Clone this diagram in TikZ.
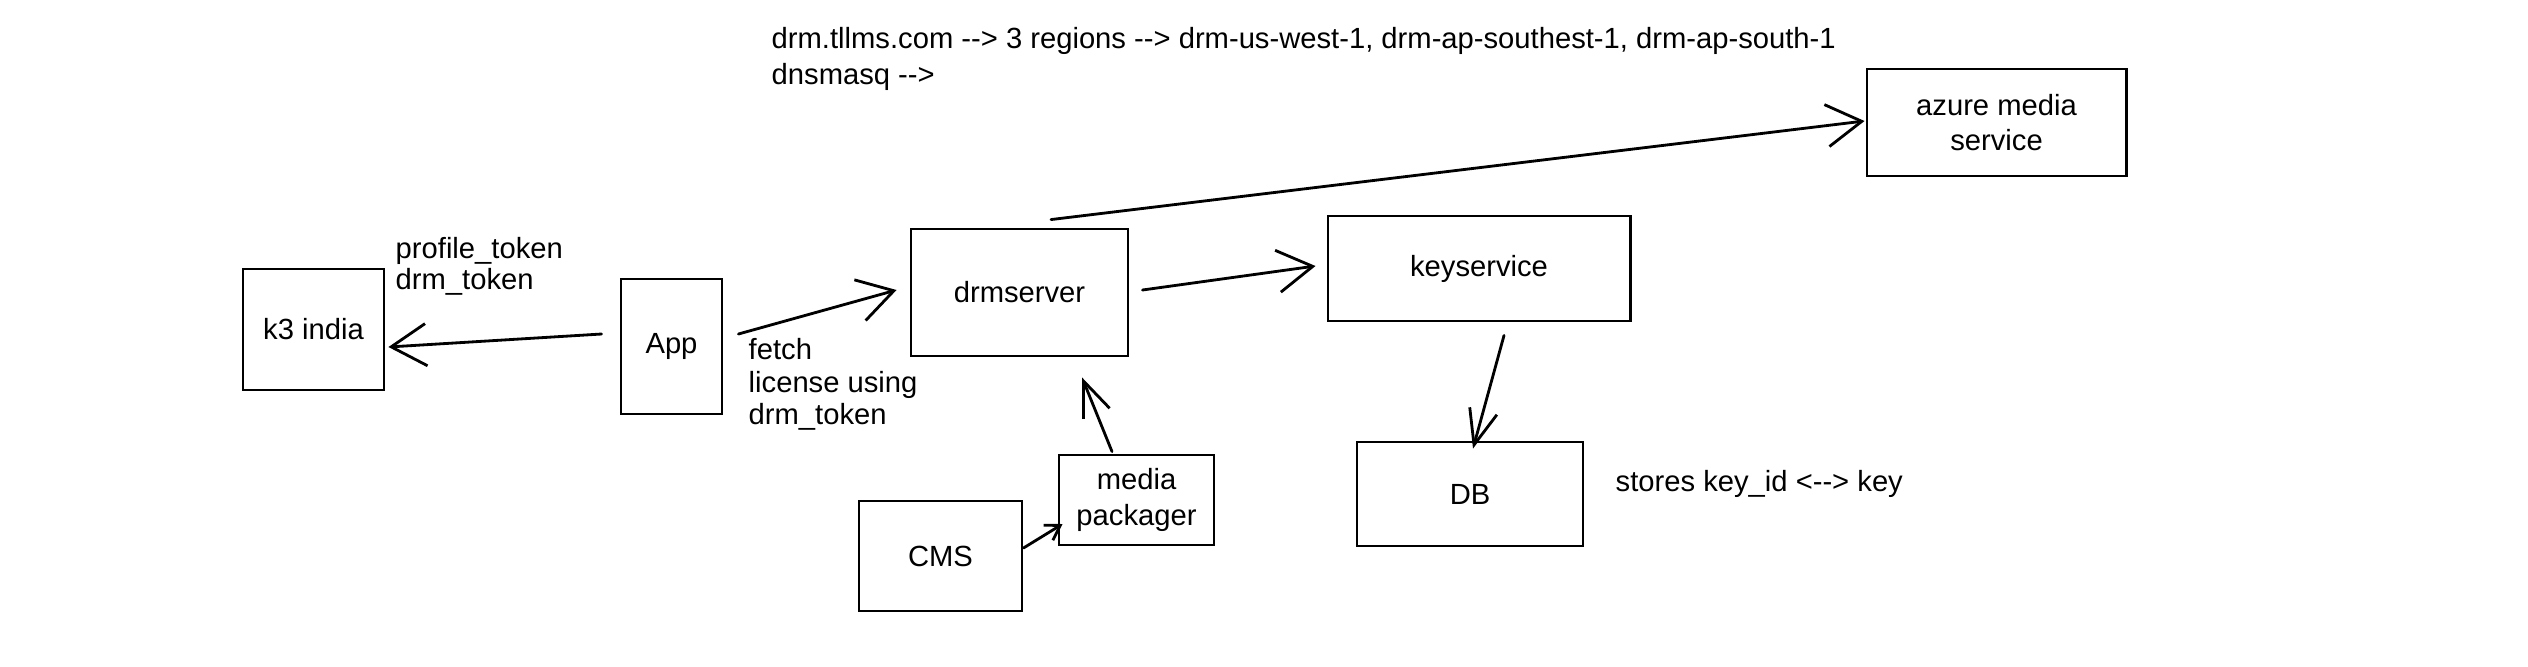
\documentclass[tikz,border=0pt]{standalone}
\usepackage{fontspec}
\setmainfont{Liberation Sans}
\usetikzlibrary{arrows.meta,calc}
\tikzset{
  box/.style={draw, line width=0.8pt, rectangle, inner sep=0pt, align=center, font=\fontsize{8.3pt}{10pt}\selectfont},
  lbl/.style={inner sep=0pt, align=left, font=\fontsize{8.3pt}{10pt}\selectfont},
  conn/.style={line width=0.8pt, line cap=round},
  bigarr/.style={conn, -{Straight Barb[length=10pt,width=12pt]}},
  narrowarr/.style={conn, -{Straight Barb[length=10pt,width=8pt]}},
  smallarr/.style={conn, -{Straight Barb[length=4pt,width=5pt]}},
}
\begin{document}
\begin{tikzpicture}[x=0.01cm,y=-0.01cm]
\useasboundingbox (0,0) rectangle (2528,666);
\fill[white] (0,0) rectangle (2528,666);
% boxes
\node[box, minimum width=1.41cm, minimum height=1.21cm] (k3) at (313.5,329.5) {k3 india};
\node[box, minimum width=1.01cm, minimum height=1.35cm] (app) at (671.5,346.5) {App};
\node[box, minimum width=2.17cm, minimum height=1.27cm] (drm) at (1019.5,292.5) {drmserver};
\node[box, minimum width=3.02cm, minimum height=1.05cm] (key) at (1479,268.5) {keyservice};
\node[box, minimum width=2.59cm, minimum height=1.07cm] (azure) at (1996.5,122.5) {azure media\\service};
\node[box, minimum width=2.26cm, minimum height=1.04cm] (db) at (1470,494) {DB};
\node[box, minimum width=1.55cm, minimum height=0.90cm] (mp) at (1136.5,500) {media\\packager};
\node[box, minimum width=1.63cm, minimum height=1.10cm] (cms) at (940.5,556) {CMS};
% labels
\node[lbl, anchor=north west, font=\fontsize{8.3pt}{10.2pt}\selectfont] (top) at (771,27) {drm.tllms.com -{}-> 3 regions -{}-> drm-us-west-1, drm-ap-southest-1, drm-ap-south-1\\dnsmasq -{}->};
\node[lbl, anchor=north west, font=\fontsize{8.3pt}{8.6pt}\selectfont] (tok) at (395,237) {profile\_token\\drm\_token};
\node[lbl, anchor=north west, font=\fontsize{8.3pt}{9.2pt}\selectfont] (fetch) at (748,338) {fetch\\license using\\drm\_token};
\node[lbl, anchor=west] (stores) at (1615,484) {stores key\_id <-{}-> key};
% connectors
\draw[bigarr] ($(app.west)+(-18,-12.5)$) -- ($(k3.east)+(3,17.5)$);
\draw[bigarr] ($(app.east)+(15,-12.5)$) -- ($(drm.west)+(-13,-2.5)$);
\draw[bigarr] ($(drm.east)+(13,-2.5)$) -- ($(key.west)+(-11,-2.5)$);
\draw[bigarr] ($(drm.north)+(31.5,-8)$) -- ($(azure.west)+(-1,-1.5)$);
\draw[narrowarr] ($(key.south)+(25,13)$) -- ($(db.north)+(3,8)$);
\draw[narrowarr] ($(mp.north)+(-24.5,-2)$) -- ($(drm.south)+(62.5,20)$);
\draw[smallarr] ($(cms.east)+(0,-8)$) -- ($(mp.west)+(5,24)$);
\end{tikzpicture}
\end{document}
